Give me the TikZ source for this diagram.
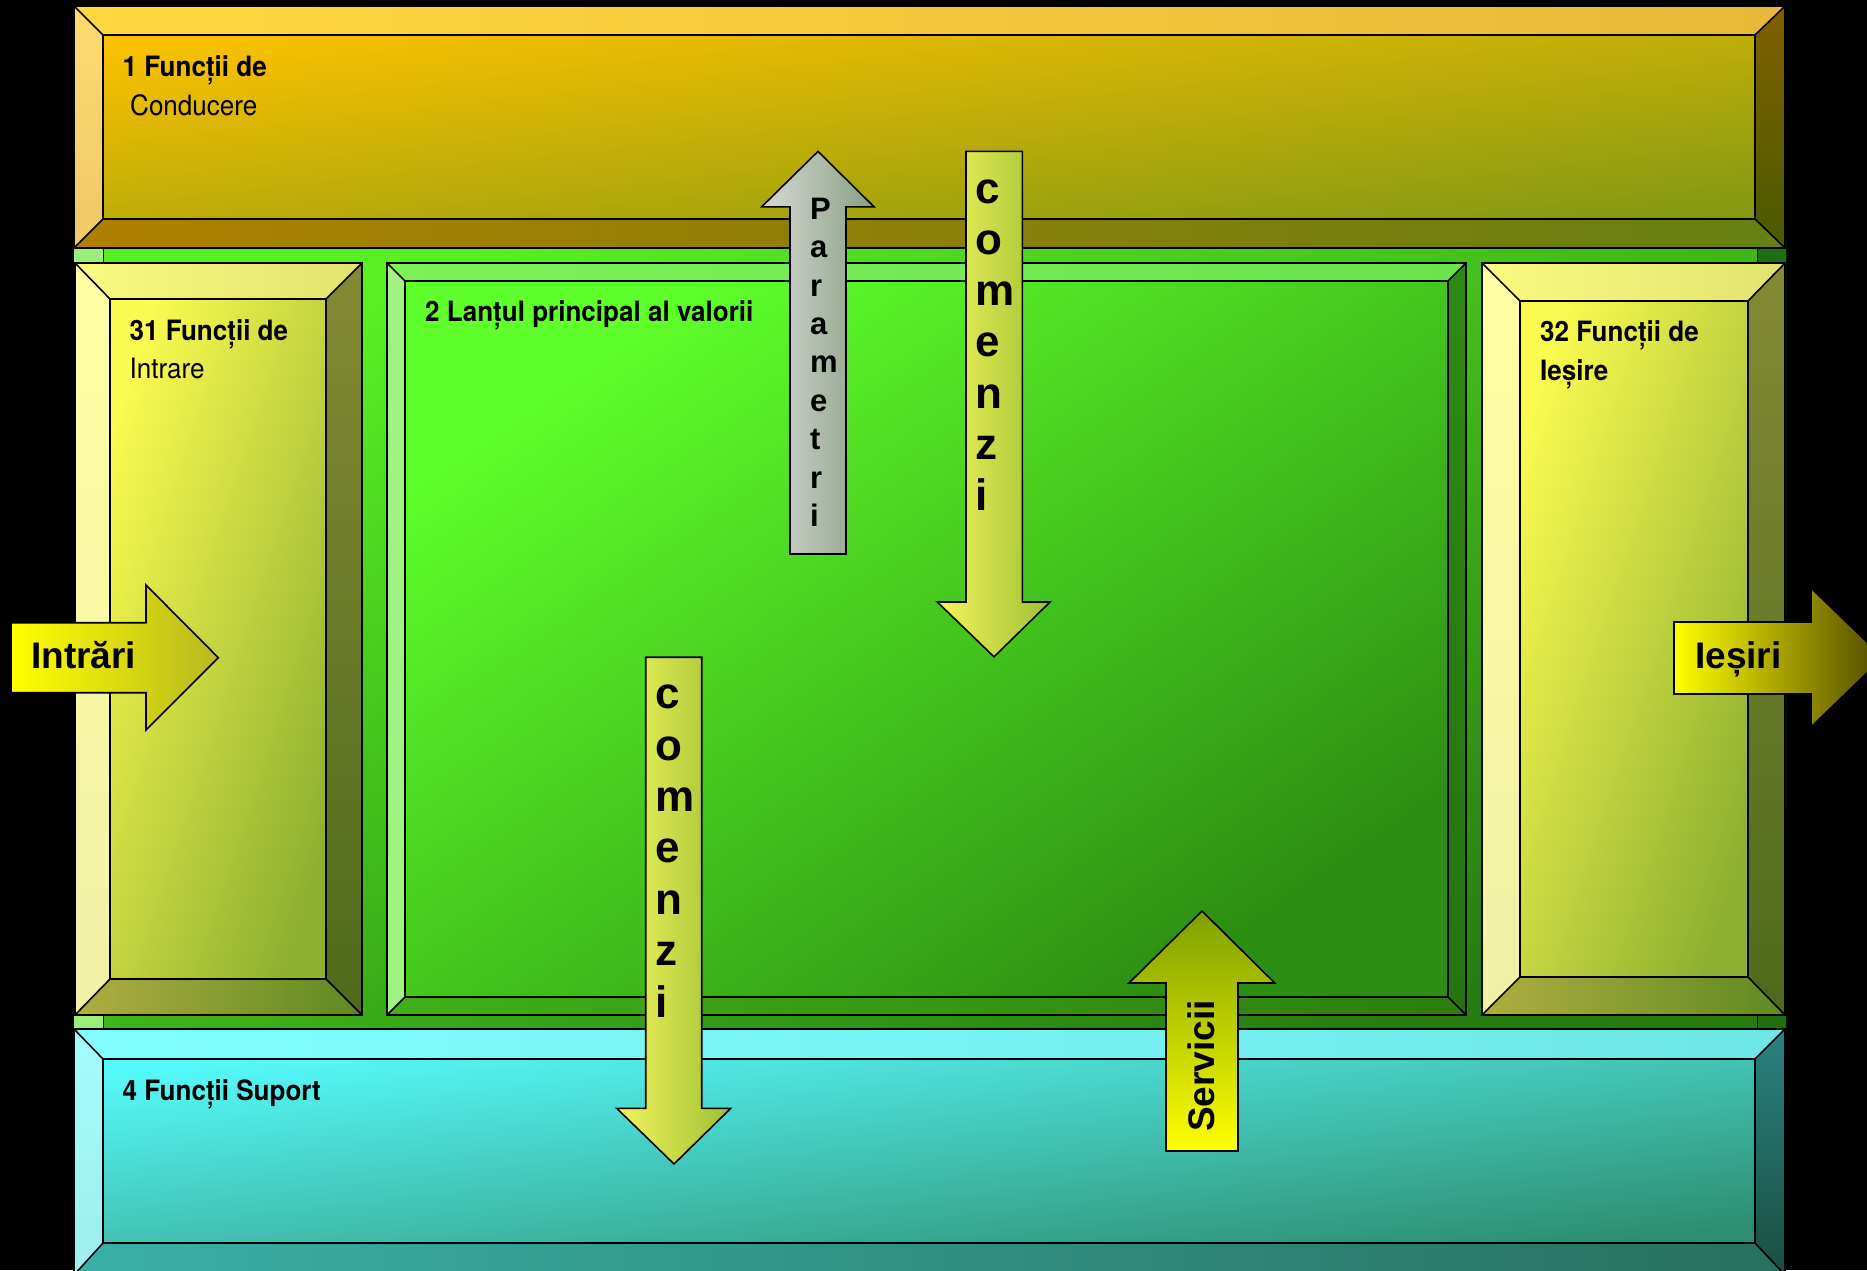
\documentclass[tikz,border=0pt]{standalone}
\usepackage{fontspec}
\newfontfamily\labfont[FakeStretch=0.93]{TeX Gyre Heros}
\newfontfamily\arrfont{Liberation Sans}

% palette
\definecolor{condTopL}{HTML}{FFD840}\definecolor{condTopR}{HTML}{E8B838}
\definecolor{condLeftT}{HTML}{FFDC70}\definecolor{condLeftB}{HTML}{F0C868}
\definecolor{condFaceA}{HTML}{F8C000}\definecolor{condFaceM}{HTML}{DCA200}\definecolor{condFaceB}{HTML}{869A12}
\definecolor{condRightT}{HTML}{806000}\definecolor{condRightB}{HTML}{4A5A00}
\definecolor{condBotL}{HTML}{B08000}\definecolor{condBotR}{HTML}{668012}

\definecolor{grnA}{HTML}{58F024}\definecolor{grnM}{HTML}{46CC1E}\definecolor{grnB}{HTML}{267C10}
\definecolor{grnLight}{HTML}{9AF07A}\definecolor{grnDark}{HTML}{216E10}

\definecolor{midTopL}{HTML}{7CF256}\definecolor{midTopR}{HTML}{6AE44A}
\definecolor{midLeft}{HTML}{A0F282}
\definecolor{midFaceA}{HTML}{5EFF2A}\definecolor{midFaceM}{HTML}{4ADC20}\definecolor{midFaceB}{HTML}{2C8E12}
\definecolor{midRightT}{HTML}{2E8A14}\definecolor{midRightB}{HTML}{25740F}
\definecolor{midBotL}{HTML}{40B01A}\definecolor{midBotR}{HTML}{2C7E10}

\definecolor{sideTopL}{HTML}{FAFA82}\definecolor{sideTopR}{HTML}{E2E26E}
\definecolor{sideLeftT}{HTML}{FFFFA4}\definecolor{sideLeftB}{HTML}{F0F0A6}
\definecolor{sideFaceA}{HTML}{FAFA50}\definecolor{sideFaceM}{HTML}{DEDE50}\definecolor{sideFaceB}{HTML}{8EB030}
\definecolor{sideRightT}{HTML}{848A34}\definecolor{sideRightB}{HTML}{4E6A1C}
\definecolor{sideBotL}{HTML}{B0AE42}\definecolor{sideBotR}{HTML}{5E8A22}

\definecolor{supTopL}{HTML}{82FFFF}\definecolor{supTopR}{HTML}{6EE6E6}
\definecolor{supLeftT}{HTML}{A4FCFC}\definecolor{supLeftB}{HTML}{9EEEEE}
\definecolor{supFaceA}{HTML}{55F8F8}\definecolor{supFaceM}{HTML}{48DCD8}\definecolor{supFaceB}{HTML}{2E8E70}
\definecolor{supRightT}{HTML}{2A8282}\definecolor{supRightB}{HTML}{1A4E40}
\definecolor{supBotL}{HTML}{3AB0A8}\definecolor{supBotR}{HTML}{28705E}

\definecolor{arrYel}{HTML}{FFFF00}\definecolor{arrOlive}{HTML}{B8B820}
\definecolor{arrDark}{HTML}{504800}
\definecolor{cmdL}{HTML}{F4F45C}\definecolor{cmdM}{HTML}{E4E450}\definecolor{cmdR}{HTML}{9EC034}
\definecolor{parL}{HTML}{D8D8D8}\definecolor{parM}{HTML}{BBBBBB}\definecolor{parR}{HTML}{88A080}
\definecolor{srvTop}{HTML}{7EA000}

\tikzset{
  edge/.style={draw=black,line width=1.6pt,line join=miter},
  boxlabel/.style={anchor=base west,inner sep=0pt,text=black,
    font=\labfont\fontsize{28}{34}\selectfont},
  boxbold/.style={boxlabel,font=\labfont\bfseries\fontsize{28}{34}\selectfont},
  arrowlabel/.style={inner sep=0pt,text=black,
    font=\arrfont\bfseries\fontsize{37}{44}\selectfont},
  letterbig/.style={anchor=base west,inner sep=0pt,text=black,
    font=\arrfont\bfseries\fontsize{44}{50}\selectfont},
  lettersmall/.style={anchor=base west,inner sep=0pt,text=black,
    font=\arrfont\bfseries\fontsize{31}{36}\selectfont},
  % management box
  cond top/.style={left color=condTopL,right color=condTopR},
  cond left/.style={top color=condLeftT,bottom color=condLeftB},
  cond right/.style={top color=condRightT,bottom color=condRightB},
  cond bottom/.style={left color=condBotL,right color=condBotR},
  cond face/.style={top color=condFaceA,middle color=condFaceM,bottom color=condFaceB,shading angle=6.4},
  % main value chain
  mid top/.style={left color=midTopL,right color=midTopR},
  mid left/.style={fill=midLeft},
  mid right/.style={top color=midRightT,bottom color=midRightB},
  mid bottom/.style={left color=midBotL,right color=midBotR},
  mid face/.style={top color=midFaceA,middle color=midFaceM,bottom color=midFaceB,shading angle=34.5},
  % input / output boxes
  side top/.style={left color=sideTopL,right color=sideTopR},
  side left/.style={top color=sideLeftT,bottom color=sideLeftB},
  side right/.style={top color=sideRightT,bottom color=sideRightB},
  side bottom/.style={left color=sideBotL,right color=sideBotR},
  side face/.style={top color=sideFaceA,middle color=sideFaceM,bottom color=sideFaceB,shading angle=72},
  % support box
  sup top/.style={left color=supTopL,right color=supTopR},
  sup left/.style={top color=supLeftT,bottom color=supLeftB},
  sup right/.style={top color=supRightT,bottom color=supRightB},
  sup bottom/.style={left color=supBotL,right color=supBotR},
  sup face/.style={top color=supFaceA,middle color=supFaceM,bottom color=supFaceB,shading angle=6.4},
}

% bevelled panel: #1 style prefix, #2-#5 outer corners, #6-#9 inner corners
\newcommand\bevelbox[9]{%
  \path[#1 top] (#2,#3) -- (#4,#3) -- (#8,#7) -- (#6,#7) -- cycle;
  \path[#1 left] (#2,#3) -- (#6,#7) -- (#6,#9) -- (#2,#5) -- cycle;
  \path[#1 right] (#4,#3) -- (#4,#5) -- (#8,#9) -- (#8,#7) -- cycle;
  \path[#1 bottom] (#2,#5) -- (#6,#9) -- (#8,#9) -- (#4,#5) -- cycle;
  \path[#1 face] (#6,#7) rectangle (#8,#9);
  \draw[edge] (#2,#3) rectangle (#4,#5);
  \draw[edge] (#6,#7) rectangle (#8,#9);
  \draw[edge] (#2,#3) -- (#6,#7) (#4,#3) -- (#8,#7)
              (#2,#5) -- (#6,#9) (#4,#5) -- (#8,#9);
}

\begin{document}
\begin{tikzpicture}[x=1pt,y=-1pt]
\useasboundingbox (0,0) rectangle (1867,1270);
\clip (0,0) rectangle (1867,1270);
\fill[black] (0,0) rectangle (1867,1270);

% green ground behind the middle row
\path[top color=grnA,middle color=grnM,bottom color=grnB,shading angle=24.8] (74,240) rectangle (1786,1035);
\fill[grnLight] (74,240) rectangle (103,1035);
\fill[grnDark] (1757,240) rectangle (1786,1035);
\draw[edge,line width=1pt] (103,240) -- (103,1035) (1757,240) -- (1757,1035);

% panels
\bevelbox{cond}{74}{6}{1785}{248}{103}{35}{1755}{219}
\bevelbox{sup}{74}{1029}{1785}{1275}{103}{1059}{1755}{1243}
\bevelbox{side}{75}{263}{362}{1015}{110}{299}{326}{979}
\bevelbox{side}{1482}{263}{1785}{1015}{1520}{301}{1748}{977}
\bevelbox{mid}{387}{263}{1466}{1015}{405}{281}{1448}{997}

% panel titles
\node[boxbold] (t1a) at (122.5,76.7) {1 Funcții de};
\node[boxlabel] (t1b) at (130,115) {Conducere};
\node[boxbold] (t31a) at (129.4,340.7) {31 Funcții de};
\node[boxlabel] (t31b) at (129.4,378) {Intrare};
\node[boxbold] (t2) at (425,321.7) {2 Lanțul principal al valorii};
\node[boxbold] (t32a) at (1540,341.7) {32 Funcții de};
\node[boxbold] (t32b) at (1540,380) {Ieșire};
\node[boxbold] (t4) at (122.5,1100.7) {4 Funcții Suport};

% inputs arrow
\path[left color=arrYel,right color=arrOlive,edge]
  (11,622.7) -- (146,622.7) -- (146,585) -- (218.3,657.7) -- (146,730)
  -- (146,692.7) -- (11,692.7) -- cycle;
\node[arrowlabel,anchor=base west] (intr) at (31,668) {Intrări};

% outputs arrow
\path[left color=arrYel,middle color=arrYel,right color=arrDark,edge]
  (1674,622) -- (1811,622) -- (1811,588) -- (1883,657.5) -- (1811,727)
  -- (1811,694) -- (1674,694) -- cycle;
\node[arrowlabel,anchor=base west] (iesi) at (1695,668) {Ieșiri};

% parameters arrow (upwards)
\path[left color=parL,middle color=parM,right color=parR,edge]
  (790,554) -- (790,206.8) -- (761.7,206.8) -- (818,151.4) -- (874,206.8)
  -- (846,206.8) -- (846,554) -- cycle;
\foreach \ch [count=\k from 0] in {P,a,r,a,m,e,t,r,i}
  \node[lettersmall] (par\k) at (810,{219.3+\k*38.4}) {\ch};

% commands arrow from management (downwards)
\path[left color=cmdL,middle color=cmdM,right color=cmdR,edge]
  (966,151.4) -- (1022.3,151.4) -- (1022.3,602) -- (1050,602) -- (994,656.8)
  -- (937.3,602) -- (966,602) -- cycle;
\foreach \ch [count=\k from 0] in {c,o,m,e,n,z,i}
  \node[letterbig] (cmdA\k) at (975,{203.2+\k*51.2}) {\ch};

% commands arrow towards support (downwards)
\path[left color=cmdL,middle color=cmdM,right color=cmdR,edge]
  (645.7,657.2) -- (701.7,657.2) -- (701.7,1108.3) -- (730.7,1108.3) -- (674,1164)
  -- (616.7,1108.3) -- (645.7,1108.3) -- cycle;
\foreach \ch [count=\k from 0] in {c,o,m,e,n,z,i}
  \node[letterbig] (cmdB\k) at (655,{708.9+\k*51.35}) {\ch};

% services arrow (upwards)
\path[top color=srvTop,bottom color=arrYel,edge]
  (1166,1151) -- (1166,983) -- (1129,983) -- (1202,911) -- (1274.7,983)
  -- (1238,983) -- (1238,1151) -- cycle;
\node[arrowlabel,rotate=90] (serv) at (1201,1066) {Servicii};
\end{tikzpicture}
\end{document}
